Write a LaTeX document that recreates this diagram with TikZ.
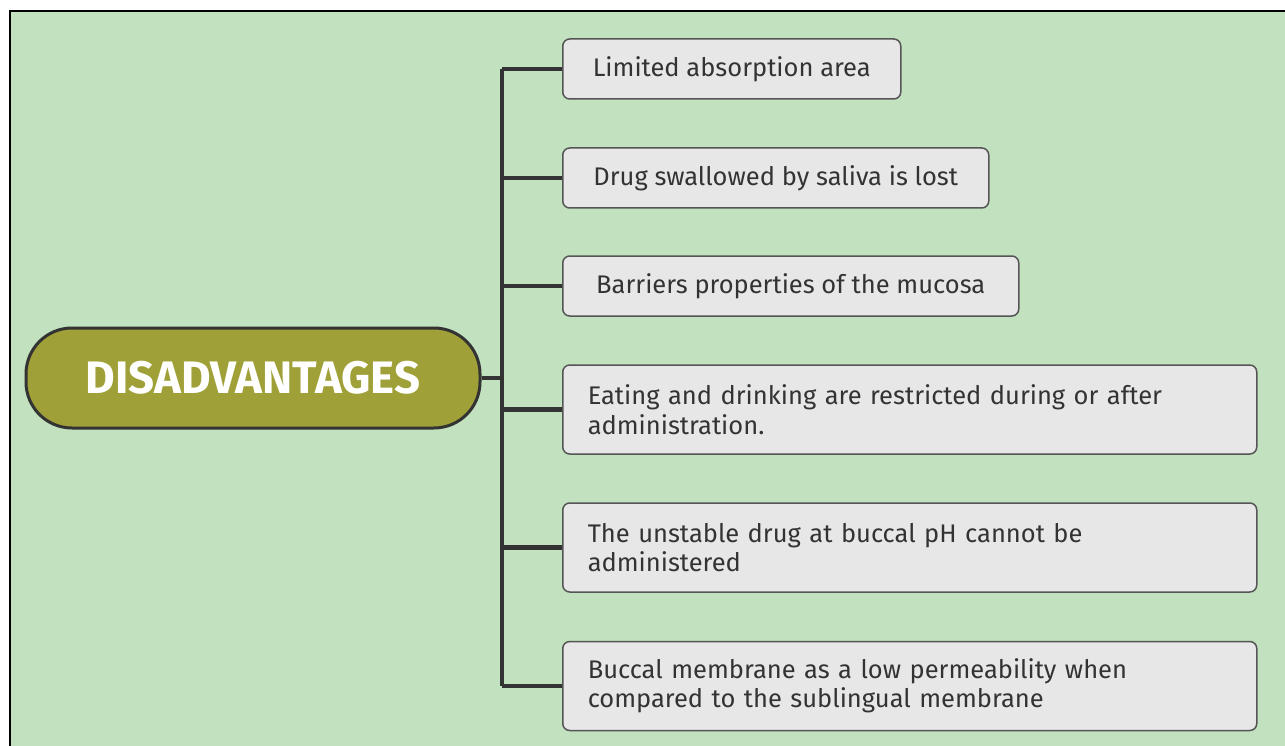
\documentclass[tikz,border=0pt]{standalone}
\usepackage{fontspec}
\setmainfont{Fira Sans}
\definecolor{bggreen}{HTML}{C2E1BE}
\definecolor{olive}{HTML}{A0A038}
\definecolor{boxgray}{HTML}{E6E7E6}
\definecolor{edgegray}{HTML}{555555}
\definecolor{ink}{HTML}{333333}
\begin{document}
\begin{tikzpicture}[x=1pt,y=-1pt,
  item/.style={fill=boxgray,draw=edgegray,line width=1.5pt,rounded corners=7pt,shape=rectangle,anchor=west,
    minimum height=60pt,inner xsep=25pt,align=left,text=ink,font=\fontsize{25.5}{29.5}\selectfont},
  wide/.style={item,text width=644pt,minimum height=89pt},
  link/.style={draw=ink,line width=4.5pt}]
\useasboundingbox (0,0) rectangle (1285,746);
\fill[bggreen] (10,11) rectangle (1285,746);
\draw[black,line width=2pt] (10,746) -- (10,11) -- (1285,11);
\node[fill=olive,draw=ink,line width=3pt,shape=rectangle,rounded corners=46pt,minimum width=454pt,minimum height=100pt,
  text=white,font=\fontsize{45.5}{52}\selectfont\bfseries](D) at (253,378){DISADVANTAGES};
\node[item,minimum width=338pt](B1) at (562,69){Limited absorption area};
\node[item,minimum width=426pt](B2) at (562,178){Drug swallowed by saliva is lost};
\node[item,minimum width=456pt](B3) at (562,286){Barriers properties of the mucosa};
\node[wide](B4) at (562,409.5){Eating and drinking are restricted during or after\\administration.};
\node[wide](B5) at (562,547.5){The unstable drug at buccal pH cannot be\\administered};
\node[wide](B6) at (562,686){Buccal membrane as a low permeability when\\compared to the sublingual membrane};
\coordinate (J) at (502,378);
\draw[link] (D.east) -- (J);
\draw[link] (B1.west -| J) -- (B6.west -| J);
\foreach \i in {1,...,6}
  \draw[link] (B\i.west) -- (B\i.west -| J);
\end{tikzpicture}
\end{document}
